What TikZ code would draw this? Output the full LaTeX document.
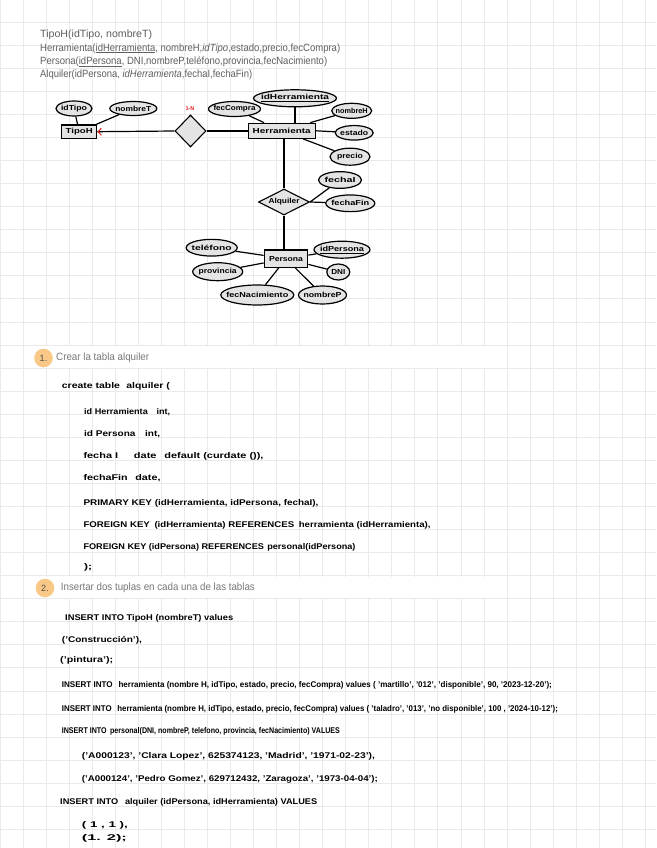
\documentclass[tikz,border=0pt]{standalone}
\usepackage{fontspec}
\setmainfont{Liberation Sans}
\usepackage{graphicx}
\usetikzlibrary{shapes.geometric}
\definecolor{gridc}{RGB}{234,234,234}
\definecolor{toptxt}{RGB}{95,95,95}
\definecolor{headtxt}{RGB}{120,120,120}
\definecolor{badge}{RGB}{249,200,135}
\definecolor{erfill}{RGB}{228,228,228}
\definecolor{redmark}{RGB}{225,30,30}
\newcommand\hw[2]{\resizebox{#1pt}{\height}{#2}}
\newcommand\lbl[2]{\makebox[0pt]{\resizebox{#1pt}{\height}{#2}}}
\begin{document}
\begin{tikzpicture}[x=1pt,y=-1pt,
  gridline/.style={draw=gridc,line width=1pt},
  toptext/.style={anchor=west,inner sep=0,text=toptxt,font=\fontsize{10.5}{12}\selectfont},
  headtext/.style={anchor=west,inner sep=0,text=headtxt,font=\fontsize{10.5}{12}\selectfont},
  badgenode/.style={circle,fill=badge,minimum size=18.6,inner sep=0,text=black!70,font=\fontsize{9}{10}\selectfont},
  code/.style={anchor=west,inner sep=0,font=\bfseries\fontsize{8.3}{9}\selectfont},
  ent/.style={draw,line width=1.3pt,fill=erfill,inner sep=0,font=\bfseries\fontsize{7.3}{8}\selectfont},
  attr/.style={ellipse,draw,line width=1.2pt,fill=erfill,inner sep=0,font=\bfseries\fontsize{7.3}{8}\selectfont},
  rel/.style={diamond,draw,line width=1.1pt,fill=erfill,inner sep=0,font=\bfseries\fontsize{7.3}{8}\selectfont},
  link/.style={line width=1.2pt}]
\useasboundingbox (0,0) rectangle (656,848);
\fill[white] (0,0) rectangle (656,848);
% grid
\foreach \i in {0,...,28} {\draw[gridline] (\i*23.05,0) -- (\i*23.05,848);}
\foreach \j in {1,...,37} {\draw[gridline] (0,\j*23.06-0.8) -- (656,\j*23.06-0.8);}
% heading bands
\fill[white] (24,346) rectangle (506,368);
\fill[white] (24,576.5) rectangle (506,598);

% relational schema
\node[toptext] (s1) at (40,35) {\hw{112}{TipoH(idTipo, nombreT)}};
\node[toptext] (s2) at (40,48.3) {\hw{300}{Herramienta(\underline{idHerramienta}, nombreH,\textit{idTipo},estado,precio,fecCompra)}};
\node[toptext] (s3) at (40,61.7) {\hw{287}{Persona(\underline{idPersona}, DNI,nombreP,teléfono,provincia,fecNacimiento)}};
\node[toptext] (s4) at (40,74.3) {\hw{212}{Alquiler(idPersona, \textit{idHerramienta},fechaI,fechaFin)}};

% ER diagram
\node[ent,minimum width=35,minimum height=13.3] (tipoh) at (79.2,131.7) {\lbl{27}{TipoH}};
\node[ent,minimum width=67,minimum height=15] (herr) at (281.7,130.8) {\lbl{58}{Herramienta}};
\node[ent,minimum width=43.4,minimum height=17.3] (pers) at (286,258.7) {\lbl{34}{Persona}};
\node[rel,minimum width=31,minimum height=32] (r1) at (190.5,131) {};
\node[rel,aspect=2,minimum width=51,minimum height=26] (alq) at (284,202) {\lbl{31}{Alquiler}};
\node[inner sep=0,text=redmark,font=\bfseries\fontsize{5.5}{6}\selectfont] (card) at (190,109) {1-N};

\node[attr,minimum width=36,minimum height=15] (idtipo) at (74,108.5) {\lbl{26}{idTipo}};
\node[attr,minimum width=47,minimum height=14] (nombret) at (133.3,108.5) {\lbl{36}{nombreT}};
\node[attr,minimum width=52,minimum height=15] (feccompra) at (234.5,109) {\lbl{42}{fecCompra}};
\node[attr,minimum width=83,minimum height=17] (idherr) at (295,98.3) {\lbl{68}{\underline{idHerramienta}}};
\node[attr,minimum width=40,minimum height=15] (nombreh) at (351.7,110.8) {\lbl{32}{nombreH}};
\node[attr,minimum width=38,minimum height=14.5] (estado) at (354.2,132.8) {\lbl{28}{estado}};
\node[attr,minimum width=40,minimum height=17] (precio) at (350,156.7) {\lbl{26}{precio}};
\node[attr,minimum width=43,minimum height=16.7] (fechai) at (340,180) {\lbl{31}{fechaI}};
\node[attr,minimum width=49,minimum height=16.7] (fechafin) at (350.3,203.3) {\lbl{38}{fechaFin}};
\node[attr,minimum width=51,minimum height=16.7] (telefono) at (211.7,247.7) {\lbl{40}{teléfono}};
\node[attr,minimum width=50,minimum height=18] (provincia) at (217.7,271.7) {\lbl{38}{provincia}};
\node[attr,minimum width=73,minimum height=20] (fecnac) at (257.3,295) {\lbl{62}{fecNacimiento}};
\node[attr,minimum width=48,minimum height=18] (nombrep) at (322.5,295) {\lbl{38}{nombreP}};
\node[attr,minimum width=56,minimum height=17] (idpers) at (342,249.7) {\lbl{44}{\underline{idPersona}}};
\node[attr,minimum width=23,minimum height=16] (dni) at (338.3,272) {\lbl{14}{DNI}};

% connectors
\draw[link] (tipoh) -- (idtipo);
\draw[link] (tipoh) -- (nombret);
\draw[link] (tipoh.east) -- (r1.west);
\draw[link] (r1.east) -- (r1.east -| herr.west);
\draw[redmark,line width=1pt] ([shift={(4,-3.5)}]tipoh.east) -- ([shift={(0.8,0)}]tipoh.east) -- ([shift={(4,3.5)}]tipoh.east);
\draw[link] (herr) -- (feccompra);
\draw[link] (herr.north -| idherr.south) -- (idherr.south);
\draw[link] (herr) -- (nombreh);
\draw[link] (herr.east) -- (estado);
\draw[link] (herr) -- (precio);
\draw[link] (alq.north) -- (alq.north |- herr.south);
\draw[link] (alq.east) -- (fechai);
\draw[link] (alq.east) -- (fechafin);
\draw[link] (alq.south) -- (alq.south |- pers.north);
\draw[link] (pers) -- (telefono);
\draw[link] (pers) -- (provincia);
\draw[link] (pers) -- (fecnac);
\draw[link] (pers) -- (nombrep);
\draw[link] (pers) -- (idpers);
\draw[link] (pers) -- (dni);

% section 1
\node[badgenode] (b1) at (43.5,358) {1.};
\node[headtext] (h1) at (56,358) {\hw{93}{Crear la tabla alquiler}};
\node[code] (c1) at (61.7,386.7) {\hw{108}{create table\hspace{5pt}alquiler (}};
\node[code] (c2) at (84,411.7) {\hw{86}{id Herramienta\hspace{8pt}int,}};
\node[code] (c3) at (84,434.3) {\hw{76}{id Persona\hspace{8pt}int,}};
\node[code] (c4) at (83.3,456.7) {\hw{180}{fecha I\hspace{12pt}date\hspace{6pt}default (curdate ()),}};
\node[code] (c5) at (83.3,478.3) {\hw{77}{fechaFin\hspace{6pt}date,}};
\node[code] (c6) at (83.3,503) {\hw{235}{PRIMARY KEY (idHerramienta, idPersona, fechaI),}};
\node[code] (c7) at (83.3,525) {\hw{347}{FOREIGN KEY\hspace{4pt}(idHerramienta) REFERENCES\hspace{4pt}herramienta (idHerramienta),}};
\node[code] (c8) at (83.3,547) {\hw{272}{FOREIGN KEY (idPersona) REFERENCES\hspace{3pt}personal(idPersona)}};
\node[code] (c9) at (84,567) {\hw{8}{);}};

% section 2
\node[badgenode] (b2) at (45,588) {2.};
\node[headtext] (h2) at (60.7,588) {\hw{194}{Insertar dos tuplas en cada una de las tablas}};
\node[code] (d1) at (65,618.3) {\hw{168}{INSERT INTO TipoH (nombreT) values}};
\node[code] (d2) at (61.7,640) {\hw{80}{('Construcción'),}};
\node[code] (d3) at (60,660) {\hw{53}{('pintura');}};
\node[code] (d4) at (61.7,685.7) {\hw{490}{INSERT INTO\hspace{6pt}herramienta (nombre H, idTipo, estado, precio, fecCompra) values ( 'martillo', '012', 'disponible', 90, '2023-12-20');}};
\node[code] (d5) at (61.7,709) {\hw{496}{INSERT INTO\hspace{6pt}herramienta (nombre H, idTipo, estado, precio, fecCompra) values ( 'taladro', '013', 'no disponible', 100 , '2024-10-12');}};
\node[code] (d6) at (61.7,731.7) {\hw{278}{INSERT INTO\hspace{4pt}personal(DNI, nombreP, telefono, provincia, fecNacimiento) VALUES}};
\node[code] (d7) at (81.7,756.7) {\hw{293}{('A000123', 'Clara Lopez', 625374123, 'Madrid', '1971-02-23'),}};
\node[code] (d8) at (81.7,779) {\hw{296}{('A000124', 'Pedro Gomez', 629712432, 'Zaragoza', '1973-04-04');}};
\node[code] (d9) at (60,802.3) {\hw{257}{INSERT INTO\hspace{6pt}alquiler (idPersona, idHerramienta) VALUES}};
\node[code] (d10) at (81.7,825) {\hw{46}{( 1 , 1 ),}};
\node[code] (d11) at (81.7,838.3) {\hw{45}{(1. 2);}};
\end{tikzpicture}
\end{document}
